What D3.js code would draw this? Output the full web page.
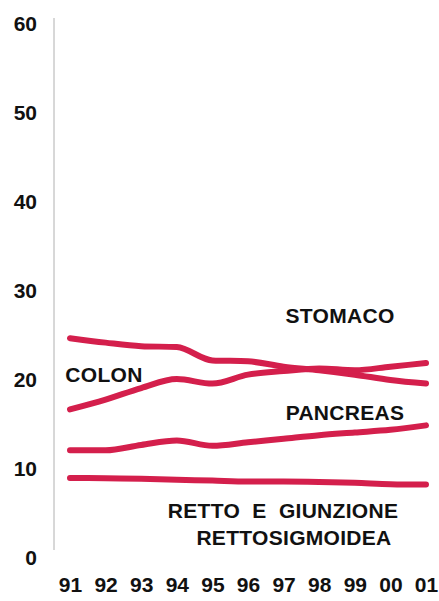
<!DOCTYPE html>
<html>
<head>
<meta charset="utf-8">
<script src="https://cdn.jsdelivr.net/npm/d3@7"></script>
<style>
  html, body { margin: 0; padding: 0; background: #fff; }
  text { font-family: "Liberation Sans", Arial, sans-serif; font-weight: bold; fill: #111; }
</style>
</head>
<body>
<svg id="chart"></svg>
<script>
'use strict'

const width  = 439,
      height = 601

// data
const years    = ['91', '92', '93', '94', '95', '96', '97', '98', '99', '00', '01']
const stomaco  = [24.7, 24.2, 23.8, 23.7, 22.2, 22.1, 21.5, 21.1, 20.6, 20.0, 19.6]
const colon    = [16.7, 17.8, 19.1, 20.1, 19.6, 20.6, 21.0, 21.3, 21.1, 21.5, 21.9]
const pancreas = [12.1, 12.1, 12.7, 13.2, 12.6, 13.0, 13.4, 13.8, 14.1, 14.4, 14.9]
const retto    = [9.0, 8.95, 8.9, 8.8, 8.7, 8.6, 8.6, 8.55, 8.45, 8.3, 8.25]
const yTicks   = [0, 10, 20, 30, 40, 50, 60]

const series = [stomaco, colon, pancreas, retto]

const svg = d3.select('#chart')
  .attr('width', width)
  .attr('height', height)

const x = d3.scalePoint().domain(years).range([70, 426])
const y = d3.scaleLinear().domain([0, 60]).range([558, 24])

// vertical axis line
svg.append('line')
  .attr('x1', 54).attr('x2', 54)
  .attr('y1', 18).attr('y2', 550)
  .attr('stroke', '#b0b0b0')
  .attr('stroke-width', 1)

// y tick labels
const yAxis = svg.append('g')
  .attr('transform', 'translate(54,0)')
  .call(d3.axisLeft(y).tickValues(yTicks).tickSize(0).tickPadding(17))
yAxis.select('.domain').remove()
yAxis.selectAll('text')
  .style('font-size', '21px')
  .attr('fill', '#111')

// x tick labels
const xAxis = svg.append('g')
  .attr('transform', 'translate(0,577)')
  .call(d3.axisBottom(x).tickSize(0).tickPadding(0))
xAxis.select('.domain').remove()
xAxis.selectAll('text')
  .style('font-size', '21px')
  .attr('fill', '#111')

// the four lines
const line = d3.line()
  .x((d, i) => x(years[i]))
  .y(d => y(d))
  .curve(d3.curveMonotoneX)

svg.append('g')
  .selectAll('path')
  .data(series)
  .enter().append('path')
    .attr('d', line)
    .attr('fill', 'none')
    .attr('stroke', '#d41f4c')
    .attr('stroke-width', 6)
    .attr('stroke-linecap', 'round')
    .attr('stroke-linejoin', 'round')

// series labels
const labels = [
  { t: 'STOMACO', x: 340, y: 323 },
  { t: 'COLON', x: 104, y: 382 },
  { t: 'PANCREAS', x: 345, y: 420 },
  { t: 'RETTO  E  GIUNZIONE', x: 283, y: 518 },
  { t: 'RETTOSIGMOIDEA', x: 294, y: 545 }
]

svg.append('g')
  .selectAll('text')
  .data(labels)
  .enter().append('text')
    .attr('x', d => d.x)
    .attr('y', d => d.y)
    .attr('text-anchor', 'middle')
    .style('font-size', '21px')
    .style('letter-spacing', '0.3px')
    .style('white-space', 'pre')
    .text(d => d.t)
</script>
</body>
</html>
